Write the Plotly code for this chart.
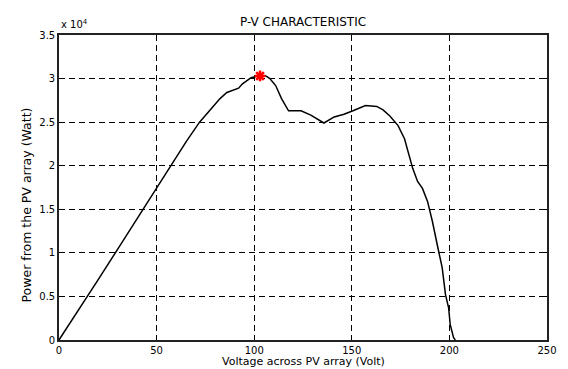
import plotly.graph_objects as go

# Data (power in units of 1e4 W)
voltage = [0, 10, 20, 30, 40, 50, 57, 65, 72, 78, 82.5, 86, 90, 92, 94, 98.4,
           102, 106, 108, 111, 114, 117.6, 121, 124, 129, 135.7, 141, 146,
           150.6, 157, 162.8, 166, 169.5, 173.7, 177, 179.5, 181.2, 183.7,
           186.2, 188.8, 191.3, 193.8, 196.3, 198, 199.6, 200.4, 202.1, 203]
power = [0, 0.34, 0.69, 1.04, 1.39, 1.74, 2.0, 2.27, 2.5, 2.66, 2.77, 2.84,
         2.87, 2.89, 2.94, 3.01, 3.03, 3.03, 3.0, 2.92, 2.77, 2.63, 2.63, 2.63,
         2.58, 2.49, 2.56, 2.59, 2.63, 2.69, 2.68, 2.64, 2.57, 2.46, 2.31,
         2.10, 1.97, 1.82, 1.74, 1.59, 1.36, 1.09, 0.83, 0.52, 0.37, 0.18,
         0.03, 0]
mpp_v = [103]
mpp_p = [3.03]

x_ticks = [0, 50, 100, 150, 200, 250]
y_ticks = [0, 0.5, 1, 1.5, 2, 2.5, 3, 3.5]
y_tick_text = ["0", "0.5", "1", "1.5", "2", "2.5", "3", "3.5"]

FONT = "DejaVu Sans, Liberation Sans, sans-serif"

fig = go.Figure()
fig.add_trace(go.Scatter(x=voltage, y=power, mode="lines",
                         line=dict(color="black", width=1.5), showlegend=False))
fig.add_trace(go.Scatter(x=mpp_v, y=mpp_p, mode="markers",
                         marker=dict(symbol="asterisk-open", size=9,
                                     line=dict(color="red", width=2.5), color="red"),
                         showlegend=False))

axis_common = dict(showline=True, linecolor="#222222", linewidth=1.6, mirror="ticks",
                   ticks="inside", ticklen=4, tickcolor="black", tickwidth=1.2,
                   showgrid=True, gridcolor="black", gridwidth=1.3, griddash="6px,4px",
                   zeroline=False, tickfont=dict(family=FONT, size=10, color="black"))

fig.update_xaxes(range=[0, 250], tickvals=x_ticks, **axis_common)
fig.update_yaxes(range=[0, 3.5], tickvals=y_ticks, ticktext=y_tick_text, **axis_common)

fig.update_layout(
    width=568, height=369,
    margin=dict(l=59, r=11, t=35, b=29),
    plot_bgcolor="white", paper_bgcolor="white",
    annotations=[
        dict(text="P-V CHARACTERISTIC", x=0.5, xref="paper", y=1.0, yref="paper",
             yanchor="middle", yshift=13, showarrow=False,
             font=dict(family=FONT, size=12, color="black")),
        dict(text="x 10<sup>4</sup>", x=0.0, xref="paper", y=1.0, yref="paper",
             xanchor="left", yanchor="bottom", yshift=3, showarrow=False,
             font=dict(family=FONT, size=10, color="black")),
        dict(text="Voltage across PV array (Volt)", x=0.5, xref="paper",
             y=0, yref="paper", yanchor="middle", yshift=-21.5, showarrow=False,
             font=dict(family=FONT, size=11, color="black")),
        dict(text="Power from the PV array (Watt)", x=0, xref="paper",
             y=0.441, yref="paper", xanchor="center", xshift=-33, textangle=-90,
             showarrow=False, font=dict(family=FONT, size=12.5, color="black")),
    ],
)

fig.write_html("out.html")
